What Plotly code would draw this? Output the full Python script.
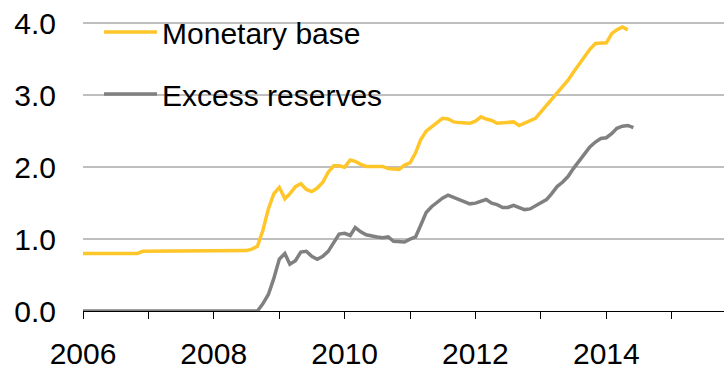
import plotly.graph_objects as go

# Monthly data, Jan 2006 onward (trillions)
monetary_base = [
    0.80, 0.80, 0.80, 0.80, 0.80, 0.80, 0.80, 0.80, 0.80, 0.80, 0.80, 0.83,   # 2006
    0.83, 0.83, 0.83, 0.83, 0.83, 0.83, 0.83, 0.83, 0.83, 0.83, 0.83, 0.83,   # 2007
    0.83, 0.83, 0.83, 0.83, 0.83, 0.83, 0.84, 0.86, 0.90, 1.12, 1.42, 1.63,   # 2008
    1.72, 1.56, 1.63, 1.73, 1.77, 1.69, 1.66, 1.71, 1.79, 1.93, 2.02, 2.02,   # 2009
    2.00, 2.10, 2.08, 2.04, 2.01, 2.01, 2.01, 2.01, 1.98, 1.97, 1.97, 2.03,   # 2010
    2.06, 2.20, 2.38, 2.50, 2.56, 2.62, 2.68, 2.67, 2.63, 2.62, 2.61, 2.61,   # 2011
    2.64, 2.70, 2.67, 2.65, 2.61, 2.62, 2.63, 2.63, 2.58, 2.61, 2.64, 2.68,   # 2012
    2.77, 2.86, 2.94, 3.03, 3.13, 3.21, 3.32, 3.43, 3.54, 3.64, 3.72, 3.73,   # 2013
    3.73, 3.86, 3.91, 3.95, 3.91,                                             # 2014
]
excess_reserves = [
    0.00, 0.00, 0.00, 0.00, 0.00, 0.00, 0.00, 0.00, 0.00, 0.00, 0.00, 0.00,   # 2006
    0.00, 0.00, 0.00, 0.00, 0.00, 0.00, 0.00, 0.00, 0.00, 0.00, 0.00, 0.00,   # 2007
    0.00, 0.00, 0.00, 0.00, 0.00, 0.00, 0.00, 0.00, 0.00, 0.10, 0.23, 0.45,   # 2008
    0.72, 0.80, 0.65, 0.70, 0.82, 0.83, 0.76, 0.72, 0.76, 0.83, 0.95, 1.07,   # 2009
    1.08, 1.05, 1.16, 1.10, 1.06, 1.04, 1.03, 1.02, 1.03, 0.97, 0.96, 0.96,   # 2010
    1.00, 1.03, 1.19, 1.37, 1.45, 1.51, 1.57, 1.61, 1.58, 1.56, 1.53, 1.49,   # 2011
    1.50, 1.53, 1.55, 1.50, 1.48, 1.44, 1.44, 1.47, 1.44, 1.41, 1.42, 1.46,   # 2012
    1.50, 1.55, 1.63, 1.73, 1.79, 1.87, 1.98, 2.08, 2.19, 2.28, 2.35, 2.40,   # 2013
    2.41, 2.47, 2.54, 2.57, 2.58, 2.55,                                       # 2014
]

def month_dates(n, start_year=2006):
    return [f"{start_year + i // 12}-{i % 12 + 1:02d}-01" for i in range(n)]

dates_mb = month_dates(len(monetary_base))
dates_er = month_dates(len(excess_reserves))

tick_years = list(range(2006, 2016))
tick_vals = [f"{y}-01-01" for y in tick_years]
tick_text = [str(y) if y % 2 == 0 else "" for y in tick_years]

y_ticks = [0, 1, 2, 3, 4]
y_text = ["0.0", "1.0", "2.0", "3.0", "4.0"]

FONT = "Liberation Sans, Arial, sans-serif"

fig = go.Figure()
fig.add_trace(go.Scatter(x=dates_mb, y=monetary_base, mode="lines", name="Monetary base",
                         legendgroup="a", line=dict(color="#FFC629", width=3.5)))
fig.add_trace(go.Scatter(x=dates_er, y=excess_reserves, mode="lines", name="Excess reserves",
                         legendgroup="b", line=dict(color="#808080", width=3.5)))

fig.add_shape(type="rect", xref="paper", yref="paper", x0=0, x1=0.516, y0=0.6, y1=1.0,
              fillcolor="white", line=dict(width=0), layer="between")

fig.update_layout(
    width=724, height=370,
    margin=dict(l=83, r=0, t=9, b=59, autoexpand=False),
    paper_bgcolor="white", plot_bgcolor="white",
    font=dict(family=FONT, size=30, color="black"),
    showlegend=True,
    legend=dict(x=0.025, y=1.01, xanchor="left", yanchor="top",
                bgcolor="rgba(0,0,0,0)", font=dict(size=30),
                itemwidth=53, traceorder="grouped", tracegroupgap=20),
    xaxis=dict(type="date", range=["2006-01-01", "2015-10-20"],
               tickvals=tick_vals, ticktext=tick_text, automargin=False,
               showgrid=False, zeroline=False,
               showline=True, linecolor="black", linewidth=1.3,
               ticks="outside", ticklen=7, tickwidth=1.3, tickcolor="black",
               tickfont=dict(size=30), ticklabelstandoff=9),
    yaxis=dict(range=[0, 4.2], tickvals=y_ticks, ticktext=y_text, automargin=False,
               showgrid=True, gridcolor="#BFBFBF", gridwidth=1.5,
               zeroline=False, showline=False, ticks="",
               tickfont=dict(size=30), ticklabelstandoff=26),
)

fig.write_html("out.html")
